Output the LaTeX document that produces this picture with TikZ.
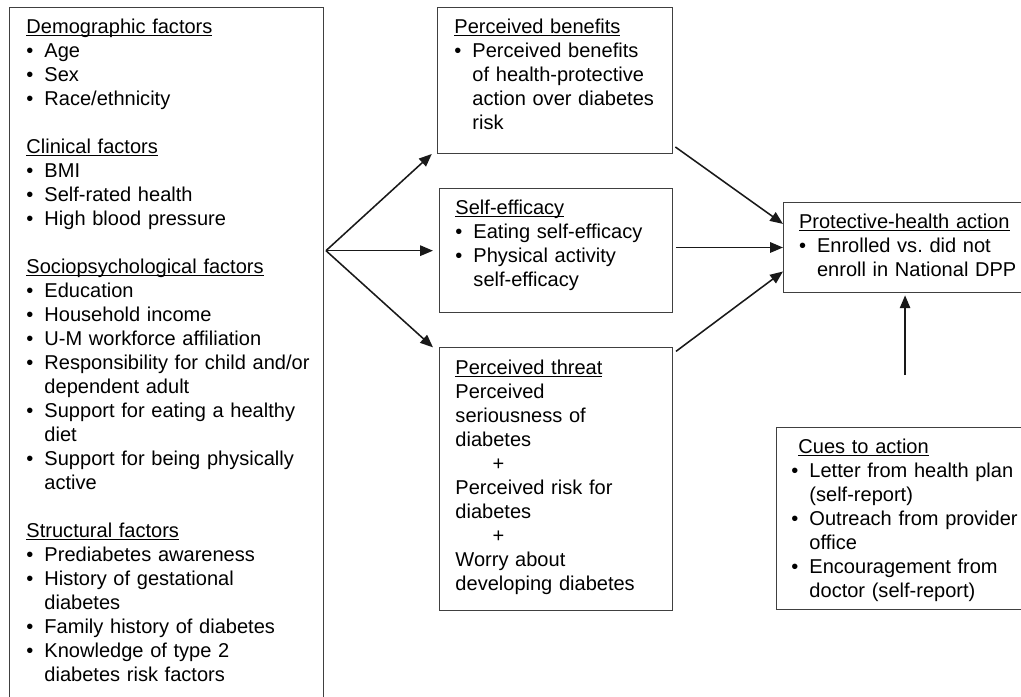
\documentclass[tikz,border=0pt]{standalone}
\usepackage{fontspec}
\setmainfont{Liberation Sans}
\usepackage{tikz}
\usetikzlibrary{positioning, arrows.meta}

\frenchspacing
\newlength{\bulw}
\setlength{\bulw}{0.45cm}
\newcommand{\heading}[1]{\rule{0pt}{0.46cm}{\setbox0=\hbox{#1}\rlap{\rule[-0.06cm]{\wd0}{0.6pt}}\box0}\par}
\newcommand{\bul}[1]{\hangindent=\bulw\hangafter=1\makebox[\bulw][l]{\textbullet}#1\par}
\newcommand{\fin}[1]{\rule[-#1]{0pt}{#1}}

\begin{document}
\begin{tikzpicture}[
    textpad/.style={execute at begin node={\leftskip=#1}},
    panel/.style={draw=black!75, line width=0.7pt, anchor=north west, align=left,
        inner xsep=0pt, inner ysep=0.2cm, textpad=0.4cm,
        font=\fontsize{14.25}{17.07}\selectfont},
    arrow/.style={-{Triangle[length=0.32cm, width=0.26cm]}, line width=1.1pt, black!90}
]
\useasboundingbox (0,0) rectangle (25.525,-17.4);

% Predisposing factors
\node[panel, text width=7.85cm, textpad=0.425cm] (factors) at (0.225,-0.175) {%
\heading{Demographic factors}
\bul{Age}
\bul{Sex}
\bul{Race/ethnicity}
\vspace{0.6cm}
\heading{Clinical factors}
\bul{BMI}
\bul{Self-rated health}
\bul{High blood pressure}
\vspace{0.6cm}
\heading{Sociopsychological factors}
\bul{Education}
\bul{Household income}
\bul{U-M workforce affiliation}
\bul{Responsibility for child and/or\newline dependent adult}
\bul{Support for eating a healthy\newline diet}
\bul{Support for being physically\newline active}
\vspace{0.6cm}
\heading{Structural factors}
\bul{Prediabetes awareness}
\bul{History of gestational\newline diabetes}
\bul{Family history of diabetes}
\bul{Knowledge of type 2\newline diabetes risk factors\fin{0.25cm}}};

% Health beliefs
\node[panel, text width=5.875cm, textpad=0.425cm, right=2.825cm of factors.north east, anchor=north west] (benefits) {%
\heading{Perceived benefits}
\bul{Perceived benefits\newline of health-protective\newline action over diabetes\newline risk\fin{0.39cm}}};

\node[panel, text width=5.825cm, below=0.85cm of benefits.south west, anchor=north west, xshift=0.05cm] (efficacy) {%
\heading{Self-efficacy}
\bul{Eating self-efficacy}
\bul{Physical activity\newline self-efficacy\fin{0.45cm}}};

\node[panel, text width=5.825cm, below=0.85cm of efficacy.south west, anchor=north west] (threat) {%
\heading{Perceived threat}
Perceived\\
seriousness of\\
diabetes\\
\hspace*{0.93cm}+\\
Perceived risk for\\
diabetes\\
\hspace*{0.93cm}+\\
Worry about\\
developing diabetes\fin{0.3cm}};

% Outcome and cues
\node[panel, text width=5.95cm, textpad=0.39cm, below right=4.875cm and 2.75cm of benefits.north east] (action) {%
\heading{Protective-health action}
\bul{Enrolled vs. did not\newline enroll in National DPP\fin{0.19cm}}};

\node[panel, text width=6.15cm, textpad=0.375cm, below=3.345cm of action.south west, anchor=north west, xshift=-0.175cm] (cues) {%
\hspace*{0.175cm}\heading{Cues to action}
\bul{Letter from health plan\newline (self-report)}
\bul{Outreach from provider\newline office}
\bul{Encouragement from\newline doctor (self-report)\fin{0.07cm}}};

% Arrows
\coordinate (fork) at ([xshift=0.05cm]factors.east |- efficacy.west);
\draw[arrow] (fork) -- ([xshift=-0.13cm]benefits.south west);
\draw[arrow] (fork) -- ([xshift=-0.15cm]efficacy.west);
\draw[arrow] (fork) -- ([xshift=-0.15cm]threat.north west);

\draw[arrow] ([xshift=0.06cm, yshift=0.175cm]benefits.south east) -- ([yshift=0.59cm]action.west);
\draw[arrow, shorten <=0.075cm] (efficacy.east |- action.west) -- (action.west);
\draw[arrow] ([xshift=0.075cm, yshift=-0.1cm]threat.north east) -- ([yshift=-0.6cm]action.west);

\draw[arrow, shorten >=0.06cm] ([xshift=0.14cm, yshift=1.29cm]cues.north) coordinate (cuetail) -- (cuetail |- action.south);

\end{tikzpicture}
\end{document}
